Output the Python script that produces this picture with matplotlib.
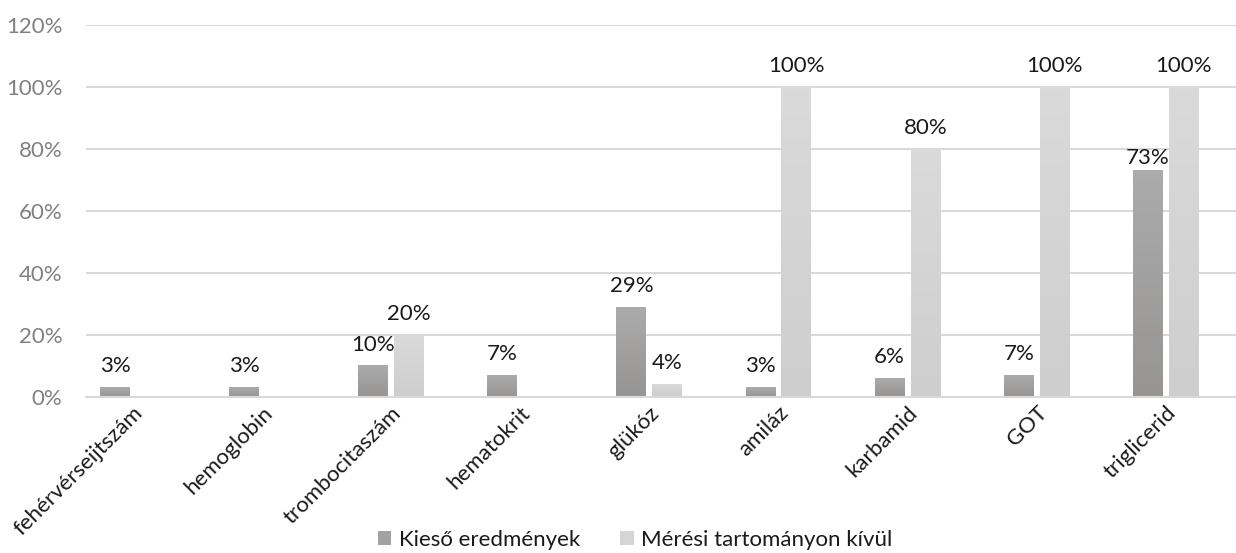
import numpy as np
import matplotlib
matplotlib.use("Agg")
import matplotlib.pyplot as plt
from matplotlib.colors import LinearSegmentedColormap
from matplotlib.patches import Patch

categories = ["fehérvérseijtszám", "hemoglobin", "trombocitaszám", "hematokrit",
              "glükóz", "amiláz", "karbamid", "GOT", "triglicerid"]
kieso = [0.03, 0.03, 0.10, 0.07, 0.29, 0.03, 0.06, 0.07, 0.73]
kivul = [0.0, 0.0, 0.20, 0.0, 0.04, 1.00, 0.80, 1.00, 1.00]
series_names = ["Kieső eredmények", "Mérési tartományon kívül"]
y_ticks = [0, 0.2, 0.4, 0.6, 0.8, 1.0, 1.2]

plt.rcParams["font.family"] = ["Lato", "DejaVu Sans"]
FS = 16

fig = plt.figure(figsize=(12.36, 5.53), dpi=100)
ax = fig.add_axes([0.0696, 0.2821, 0.9304, 0.6727])

x = np.arange(len(categories))
width = 0.232
off = 0.139

dark_cmap = LinearSegmentedColormap.from_list("dk", ["#acabab", "#969594"])
light_cmap = LinearSegmentedColormap.from_list("lt", ["#dadada", "#cecece"])
grad = np.linspace(0, 1, 64).reshape(-1, 1)


def gradient_bars(xpos, vals, cmap):
    bars = ax.bar(xpos, vals, width, color="none", edgecolor="none", zorder=2)
    for b in bars:
        h = b.get_height()
        if h <= 0:
            continue
        x0 = b.get_x()
        ax.imshow(grad, cmap=cmap, aspect="auto", zorder=2,
                  extent=(x0, x0 + b.get_width(), 0, h), origin="upper")
    return bars


gradient_bars(x - off, kieso, dark_cmap)
gradient_bars(x + off, kivul, light_cmap)

# data labels (only non-zero values); the 73% label sits a bit lower in the original
label_nudge = {("kieso", 8): -6}
for i, v in enumerate(kieso):
    dy = 11 + label_nudge.get(("kieso", i), 0)
    ax.annotate(f"{v*100:.0f}%", (x[i] - off, v), xytext=(0, dy),
                textcoords="offset points", ha="center", va="baseline",
                fontsize=FS, color="#1a1a1a")
for i, v in enumerate(kivul):
    if v == 0:
        continue
    ax.annotate(f"{v*100:.0f}%", (x[i] + off, v), xytext=(0, 11),
                textcoords="offset points", ha="center", va="baseline",
                fontsize=FS, color="#1a1a1a")

ax.set_xlim(-0.364, 8.544)
ax.set_ylim(0, 1.2)
ax.set_yticks(y_ticks)
ax.set_yticklabels([f"{t*100:.0f}%" for t in y_ticks])
ax.yaxis.grid(True, color="#d9d9d9", linewidth=1.5, zorder=0)
ax.set_axisbelow(True)
ax.tick_params(axis="y", length=0, pad=17, labelsize=FS, labelcolor="#808080")
ax.tick_params(axis="x", length=0, pad=4)
ax.set_xticks(x)
ax.set_xticklabels(categories, rotation=45, ha="right", va="top",
                   rotation_mode="anchor", fontsize=FS, color="#1a1a1a")
for s in ["top", "right", "left"]:
    ax.spines[s].set_visible(False)
ax.spines["bottom"].set_color("#d9d9d9")
ax.spines["bottom"].set_linewidth(1.5)

handles = [Patch(facecolor="#a3a2a2", edgecolor="none"),
           Patch(facecolor="#d5d5d5", edgecolor="none")]
fig.legend(handles, series_names, loc="lower center", bbox_to_anchor=(0.514, -0.03),
           ncol=2, frameon=False, fontsize=FS, handlelength=0.6, handleheight=0.6,
           handletextpad=0.35, columnspacing=1.8, labelcolor="#1a1a1a")

fig.savefig("out.png", dpi=100)
